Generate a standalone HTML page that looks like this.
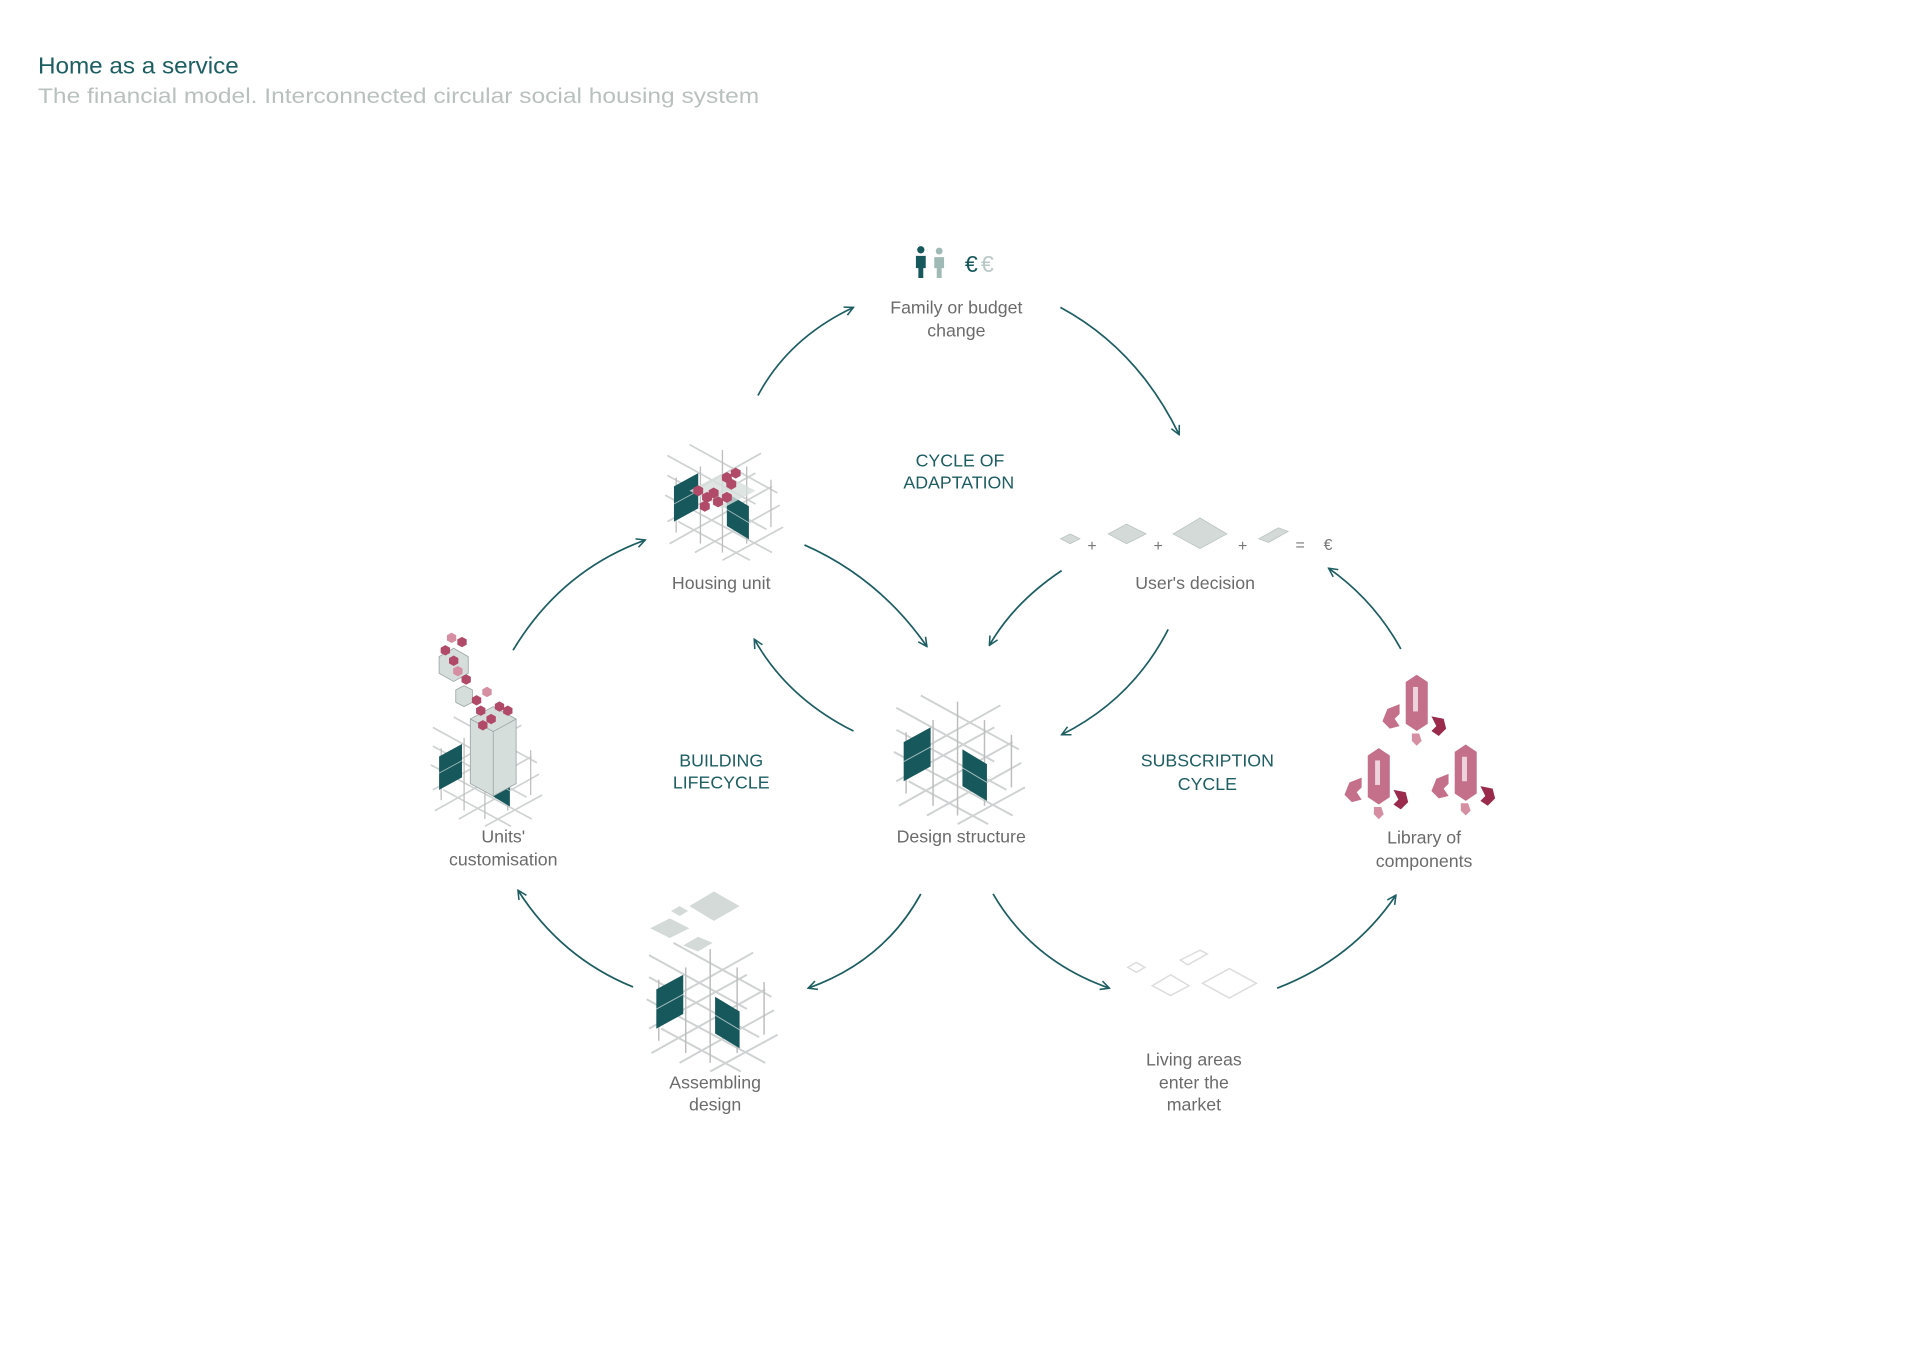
<!DOCTYPE html>
<html><head><meta charset="utf-8"><style>
html,body{margin:0;padding:0;background:#fff;}
svg{display:block;}
text{font-family:"Liberation Sans",Arial,sans-serif;}
.lbl{fill:#6b6b6b;font-size:14.5px;text-anchor:middle;}
.cyc{fill:#1d5e62;font-size:14.5px;text-anchor:middle;}
.arr{fill:none;stroke:#1d5e62;stroke-width:1.4;marker-end:url(#ah);}
.g{stroke:#cfd2d2;stroke-width:1.6;fill:none;}
.p{stroke:#bdbdbd;stroke-width:1.2;}
.t{fill:#17585c;}
.h{fill:#b04a68;}
.hl{fill:#d58ea2;}
.box{fill:#d6dedc;stroke:#9aa6a4;stroke-width:0.8;}
.cmp{fill:#c4708a;}
.cmpd{fill:#9b2b4c;}
</style></head><body>
<svg width="1920" height="1358" viewBox="0 0 1568 1109" preserveAspectRatio="none" xmlns="http://www.w3.org/2000/svg">
<defs>
<marker id="ah" viewBox="0 0 10 10" refX="9" refY="5" markerWidth="9" markerHeight="9" markerUnits="userSpaceOnUse" orient="auto">
<path d="M1,1 L9,5 L1,9" fill="none" stroke="#1d5e62" stroke-width="1.4"/>
</marker>
<g id="grid">
<g class="g">
<line x1="-50" y1="-40" x2="30" y2="4"/><line x1="-50" y1="-22" x2="40" y2="27"/><line x1="-52" y1="-4" x2="45" y2="48"/><line x1="-40" y1="20" x2="25" y2="55"/><line x1="-30" y1="-50" x2="50" y2="-6"/>
<line x1="-50" y1="20" x2="30" y2="-24"/><line x1="-48" y1="40" x2="45" y2="-12"/><line x1="-25" y1="48" x2="52" y2="5"/><line x1="-40" y1="0" x2="35" y2="-42"/><line x1="0" y1="55" x2="55" y2="25"/>
</g>
<g class="p">
<line x1="-42" y1="-20" x2="-42" y2="30"/><line x1="-20" y1="-30" x2="-20" y2="40"/><line x1="0" y1="-45" x2="0" y2="48"/><line x1="22" y1="-30" x2="22" y2="40"/><line x1="44" y1="-18" x2="44" y2="25"/>
</g>
<polygon class="t" points="-44,-12 -22,-24 -22,8 -44,20"/>
<polygon class="t" points="4,-6 24,6 24,36 4,24"/>
<g stroke="#fff" stroke-width="0.8" opacity="0.6"><line x1="-44" y1="4" x2="-22" y2="-8"/><line x1="4" y1="9" x2="24" y2="21"/></g>
</g>
<g id="hex"><polygon points="0,-5 4.5,-2.5 4.5,2.5 0,5 -4.5,2.5 -4.5,-2.5"/></g>
<g id="comp">
<path class="cmp" d="M-9,-18 L0,-24 L9,-18 L9,16 L0,22 L-9,16 Z"/>
<rect x="-3" y="-14" width="4" height="20" fill="#fff" opacity="0.7"/>
<path class="cmp" d="M-14,0 L-24,4 L-28,14 L-22,20 L-14,18 L-18,12 L-14,8 Z"/>
<path class="cmpd" d="M12,10 L22,12 L24,20 L18,26 L12,22 L16,18 Z"/>
<path class="hl" d="M-4,24 L2,24 L4,30 L0,34 L-4,30 Z"/>
</g>
</defs>

<text x="31" y="60" textLength="164" lengthAdjust="spacingAndGlyphs" style="font-size:18.5px;fill:#1d5e62">Home as a service</text>
<text x="31" y="84" textLength="589" lengthAdjust="spacingAndGlyphs" style="font-size:17.5px;fill:#b9c1bf">The financial model. Interconnected circular social housing system</text>

<!-- Family -->
<g>
<circle cx="752" cy="204" r="3" fill="#17585c"/><path d="M748,209 h8 v10 h-2 v8 h-4 v-8 h-2z" fill="#17585c"/>
<circle cx="767" cy="205" r="2.8" fill="#9fb9b4"/><path d="M763,210 h8 v9 h-2 v8 h-4 v-8 h-2z" fill="#9fb9b4"/>
<text x="788" y="222" style="font-size:19px;fill:#17585c">€</text><text x="801" y="222" style="font-size:19px;fill:#b9c9c6">€</text>
</g>
<text class="lbl" x="781" y="256">Family or budget</text>
<text class="lbl" x="781" y="275">change</text>

<text class="cyc" x="784" y="381">CYCLE OF</text>
<text class="cyc" x="783" y="399">ADAPTATION</text>
<text class="cyc" x="589" y="626">BUILDING</text>
<text class="cyc" x="589" y="644">LIFECYCLE</text>
<text class="cyc" x="986" y="626">SUBSCRIPTION</text>
<text class="cyc" x="986" y="645">CYCLE</text>

<!-- Housing unit -->
<g transform="translate(590,408) scale(0.9)">
<use href="#grid"/>
<polygon points="-30,-8 0,-24 30,-8 0,8" fill="#d6dedc" opacity="0.8"/>
<g class="h"><use href="#hex" x="-22" y="-8"/><use href="#hex" x="-14" y="-2"/><use href="#hex" x="-8" y="-6"/><use href="#hex" x="-4" y="2"/><use href="#hex" x="4" y="-2"/><use href="#hex" x="4" y="-20"/><use href="#hex" x="12" y="-24"/><use href="#hex" x="8" y="-14"/><use href="#hex" x="-16" y="6"/></g>
</g>
<text class="lbl" x="589" y="481">Housing unit</text>

<!-- User's decision -->
<g fill="#d3dad8" stroke="#b8c2c0" stroke-width="0.6">
<polygon points="866,440 874,436 882,440 874,444"/>
<polygon points="905,436 920,428 936,436 920,444"/>
<polygon points="958,436 980,423 1002,436 980,448"/>
<polygon points="1028,440 1044,431 1052,434 1036,443"/>
</g>
<g style="font-size:13px;fill:#777"><text x="888" y="450">+</text><text x="942" y="450">+</text><text x="1011" y="450">+</text><text x="1058" y="449">=</text><text x="1081" y="449">€</text></g>
<text class="lbl" x="976" y="481">User's decision</text>

<!-- Units' customisation -->
<g transform="translate(396,628) scale(0.85)">
<use href="#grid"/>
<polygon class="box" points="-14,-48 8,-60 30,-48 30,14 8,26 -14,14"/>
<line x1="8" y1="-36" x2="8" y2="26" stroke="#9aa6a4" stroke-width="0.8"/>
<polyline points="-14,-48 8,-36 30,-48" fill="none" stroke="#9aa6a4" stroke-width="0.8"/>
<polygon class="box" points="-44,-108 -30,-116 -16,-108 -16,-92 -30,-84 -44,-92"/>
<polygon class="box" points="-28,-76 -20,-80 -12,-76 -12,-64 -20,-60 -28,-64"/>
<g class="h"><use href="#hex" x="-38" y="-114"/><use href="#hex" x="-30" y="-104"/><use href="#hex" x="-22" y="-122"/><use href="#hex" x="-18" y="-86"/><use href="#hex" x="-8" y="-66"/><use href="#hex" x="-4" y="-56"/><use href="#hex" x="6" y="-48"/><use href="#hex" x="14" y="-60"/><use href="#hex" x="22" y="-56"/><use href="#hex" x="-2" y="-42"/></g>
<g class="hl"><use href="#hex" x="-32" y="-126"/><use href="#hex" x="-26" y="-94"/><use href="#hex" x="2" y="-74"/></g>
</g>
<text class="lbl" x="411" y="688">Units'</text>
<text class="lbl" x="411" y="707">customisation</text>

<!-- Design structure -->
<use href="#grid" x="782" y="618"/>
<text class="lbl" x="785" y="688">Design structure</text>

<!-- Library -->
<g transform="translate(1157,575)"><use href="#comp"/></g>
<g transform="translate(1126,635)"><use href="#comp"/></g>
<g transform="translate(1197,632)"><use href="#comp"/></g>
<text class="lbl" x="1163" y="689">Library of</text>
<text class="lbl" x="1163" y="708">components</text>

<!-- Assembling design -->
<use href="#grid" x="580" y="820"/>
<g fill="#d3dad8">
<polygon points="563,740 583,728 604,740 583,752"/>
<polygon points="531,758 547,750 563,758 547,766"/>
<polygon points="548,744 555,740 562,744 555,748"/>
<polygon points="558,772 570,765 582,770 570,777"/>
</g>
<text class="lbl" x="584" y="889">Assembling</text>
<text class="lbl" x="584" y="907">design</text>

<!-- Living areas -->
<g fill="none" stroke="#dcdcdc" stroke-width="1.2">
<polygon points="921,790 928,786 935,790 928,794"/>
<polygon points="964,784 980,776 986,779 970,788"/>
<polygon points="941,805 956,796 971,805 956,813"/>
<polygon points="982,803 1004,791 1026,803 1004,815"/>
</g>
<text class="lbl" x="975" y="870">Living areas</text>
<text class="lbl" x="975" y="889">enter the</text>
<text class="lbl" x="975" y="907">market</text>

<!-- arrows -->
<path class="arr" d="M619,323 Q644,276 697,251"/>
<path class="arr" d="M866,251 Q929,285 963,355"/>
<path class="arr" d="M657,445 Q718,472 757,528"/>
<path class="arr" d="M867,466 Q828,492 808,527"/>
<path class="arr" d="M954,514 Q925,571 867,600"/>
<path class="arr" d="M697,597 Q643,570 616,522"/>
<path class="arr" d="M419,531 Q458,466 527,441"/>
<path class="arr" d="M1144,530 Q1122,490 1085,464"/>
<path class="arr" d="M517,806 Q458,782 423,727"/>
<path class="arr" d="M752,730 Q722,785 660,807"/>
<path class="arr" d="M811,730 Q843,785 906,807"/>
<path class="arr" d="M1043,807 Q1105,783 1140,731"/>
</svg>
</body></html>
